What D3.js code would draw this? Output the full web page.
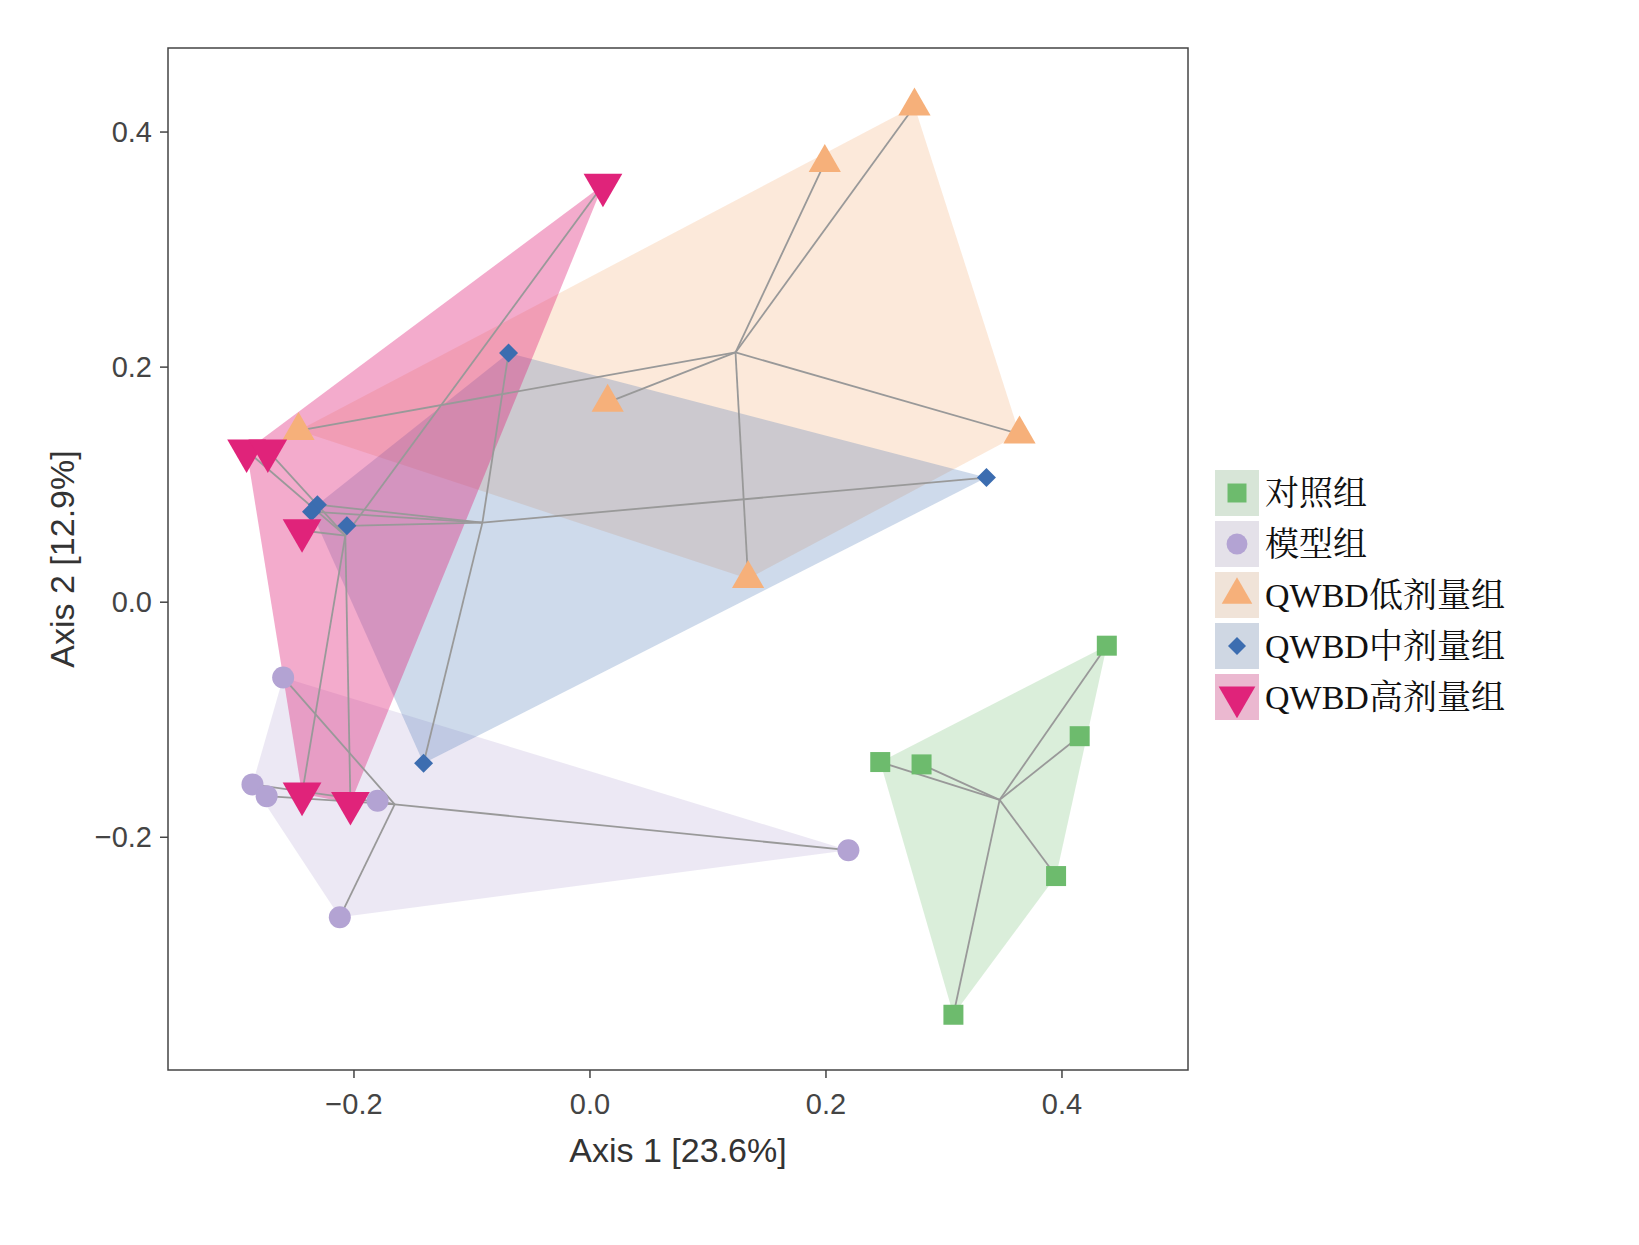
<!DOCTYPE html>
<html><head><meta charset="utf-8">
<script src="https://cdn.jsdelivr.net/npm/d3@7"></script>
<style>body{margin:0;background:#fff}</style></head>
<body><svg id="c" width="1639" height="1245"></svg>
<script>
const groups = ["对照组","模型组","QWBD低剂量组","QWBD中剂量组","QWBD高剂量组"];
const colors = ["#6dbb6d","#b3a3d3","#f6b07a","#3c6db0","#e0237a"];
const fillOpacity = [0.25,0.25,0.28,0.25,0.38];
const symbols = ["square","circle","triangle","diamond","triangleDown"];
const xs = [
  [0.438,0.415,0.246,0.281,0.395,0.308],
  [-0.260,-0.286,-0.274,-0.180,0.219,-0.212],
  [0.275,0.199,-0.247,0.015,0.364,0.134],
  [-0.069,0.336,-0.231,-0.236,-0.206,-0.141],
  [0.011,-0.291,-0.273,-0.244,-0.244,-0.203]
];
const ys = [
  [-0.037,-0.114,-0.136,-0.138,-0.233,-0.351],
  [-0.064,-0.155,-0.165,-0.169,-0.211,-0.268],
  [0.422,0.374,0.146,0.170,0.143,0.020],
  [0.212,0.106,0.083,0.077,0.065,-0.137],
  [0.355,0.129,0.129,0.061,-0.163,-0.171]
];
const xTicks=[-0.2,0.0,0.2,0.4], yTicks=[-0.2,0.0,0.2,0.4];

const svg=d3.select("#c");
const L=168,R=1188,T=48,B=1070;
const x=d3.scaleLinear().domain([-0.3576,0.5068]).range([L,R]);
const y=d3.scaleLinear().domain([0.4715,-0.398]).range([T,B]);
const g=svg.append("g");
groups.forEach((name,i)=>{
  const pts=xs[i].map((v,j)=>[x(v),y(ys[i][j])]);
  const hull=d3.polygonHull(pts);
  g.append("path").attr("d","M"+hull.join("L")+"Z").attr("fill",colors[i]).attr("fill-opacity",fillOpacity[i]).attr("stroke","none");
});
groups.forEach((name,i)=>{
  const pts=xs[i].map((v,j)=>[x(v),y(ys[i][j])]);
  const cx=d3.mean(pts,p=>p[0]), cy=d3.mean(pts,p=>p[1]);
  pts.forEach(p=>g.append("line").attr("x1",cx).attr("y1",cy).attr("x2",p[0]).attr("y2",p[1]).attr("stroke","#999").attr("stroke-width",1.8));
});
const symMap={square:d3.symbolSquare,circle:d3.symbolCircle,triangle:d3.symbolTriangle,diamond:d3.symbolSquare,triangleDown:d3.symbolTriangle};
const sizes=[400,380,450,180,650];
function sym(sel,i,px,py,scale){
  const s=d3.symbol().type(symMap[symbols[i]]).size(sizes[i]*scale);
  const rot=symbols[i]==="triangleDown"?180:(symbols[i]==="diamond"?45:0);
  sel.append("path").attr("d",s()).attr("fill",colors[i]).attr("transform",`translate(${px},${py}) rotate(${rot})`);
}
groups.forEach((name,i)=>{
  xs[i].forEach((v,j)=>sym(g,i,x(v),y(ys[i][j]),1));
});
svg.append("rect").attr("x",L).attr("y",T).attr("width",R-L).attr("height",B-T).attr("fill","none").attr("stroke","#444").attr("stroke-width",1.5);
const ff="Liberation Sans, Arial, sans-serif";
xTicks.forEach(t=>{
  svg.append("line").attr("x1",x(t)).attr("x2",x(t)).attr("y1",B).attr("y2",B+8).attr("stroke","#444").attr("stroke-width",1.5);
  svg.append("text").attr("x",x(t)).attr("y",B+44).attr("text-anchor","middle").attr("font-family",ff).attr("font-size",29).attr("fill","#444").text(t===0?"0.0":d3.format(".1f")(t).replace("-","−"));
});
yTicks.forEach(t=>{
  svg.append("line").attr("x1",L-8).attr("x2",L).attr("y1",y(t)).attr("y2",y(t)).attr("stroke","#444").attr("stroke-width",1.5);
  svg.append("text").attr("x",L-16).attr("y",y(t)+10).attr("text-anchor","end").attr("font-family",ff).attr("font-size",29).attr("fill","#444").text(t===0?"0.0":d3.format(".1f")(t).replace("-","−"));
});
svg.append("text").attr("x",(L+R)/2).attr("y",1162).attr("text-anchor","middle").attr("font-family",ff).attr("font-size",34).attr("fill","#333").text("Axis 1 [23.6%]");
svg.append("text").attr("transform",`translate(74,${(T+B)/2}) rotate(-90)`).attr("text-anchor","middle").attr("font-family",ff).attr("font-size",34).attr("fill","#333").text("Axis 2 [12.9%]");
groups.forEach((name,i)=>{
  const ly=493+i*51;
  svg.append("rect").attr("x",1215).attr("y",ly-23).attr("width",44).attr("height",46).attr("fill","#efefef");
  svg.append("rect").attr("x",1215).attr("y",ly-23).attr("width",44).attr("height",46).attr("fill",colors[i]).attr("fill-opacity",fillOpacity[i]*0.7);
  sym(svg,i,1237,ly,0.9);
  svg.append("text").attr("x",1265).attr("y",ly+12).attr("font-family","Liberation Serif, Noto Serif CJK SC, Noto Sans CJK SC, serif").attr("font-size",34).attr("fill","#111").text(name);
});
</script></body></html>
